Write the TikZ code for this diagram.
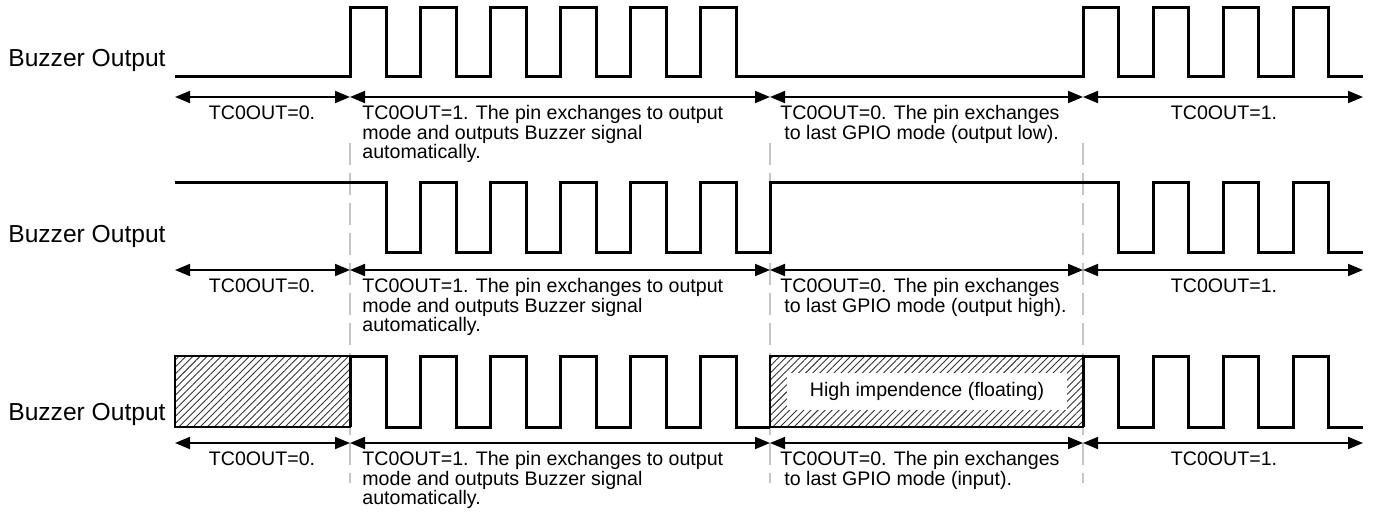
\documentclass[tikz,border=0pt]{standalone}
\usepackage{fontspec}
\setmainfont{Liberation Sans}
\usetikzlibrary{arrows.meta,patterns.meta}

\begin{document}
\begin{tikzpicture}[x=0.5pt,y=-0.5pt,
  wave/.style={line width=1.5pt},
  span/.style={{Triangle[length=7.5pt,width=6pt]}-{Triangle[length=7.5pt,width=6pt]},line width=0.9pt},
  guide/.style={gray!45,line width=1.3pt,dash pattern=on 11pt off 4pt},
  hiz/.style={draw,line width=0.9pt,pattern={Lines[angle=45,distance=2.5pt,line width=0.45pt]},pattern color=black!80},
  lbl/.style={font=\fontsize{12.3}{14}\selectfont,anchor=base east,inner sep=0pt},
  txt/.style={font=\fontsize{9.8}{9.8}\selectfont,inner sep=0pt}]
  \useasboundingbox (0,0) rectangle (1374,521);
  % guide lines at the TC0OUT changes
  \foreach \x in {350,770,1083}
    \draw[guide] (\x,143) -- (\x,483);

  % row 1: idle low
  \node[lbl] (buz1) at (166,66) {Buzzer Output};
  \draw[wave] (175,76) -- (350,76)
    \foreach \k in {0,...,5} { -- ++(0,-69) -- ++(36,0) -- ++(0,69) -- ++(34,0) }
    -- (1083,76)
    \foreach \k in {0,...,3} { -- ++(0,-69) -- ++(35,0) -- ++(0,69) -- ++(35,0) };

  % row 2: idle high
  \node[lbl] (buz2) at (166,242) {Buzzer Output};
  \draw[wave] (175,182) -- (386,182) -- (386,252) -- (420,252)
    \foreach \k in {0,...,4} { -- ++(0,-70) -- ++(36,0) -- ++(0,70) -- ++(34,0) }
    -- (770,182) -- (1118,182) -- (1118,252) -- (1153,252)
    \foreach \k in {0,...,2} { -- ++(0,-70) -- ++(35,0) -- ++(0,70) -- ++(35,0) };

  % row 3: floating input
  \node[lbl] (buz3) at (166,420) {Buzzer Output};
  \draw[hiz] (175,356) rectangle (350,427);
  \draw[hiz] (770,356) rectangle (1083,427);
  \node[txt,fill=white,minimum width=140pt,minimum height=18.5pt] (float) at (927,391) {High impendence (floating)};
  \draw[wave] (350,427)
    \foreach \k in {0,...,5} { -- ++(0,-71) -- ++(36,0) -- ++(0,71) -- ++(34,0) };
  \draw[wave] (1083,427)
    \foreach \k in {0,...,3} { -- ++(0,-71) -- ++(35,0) -- ++(0,71) -- ++(35,0) };

  % spans and notes
  \foreach \r/\y/\m in {1/97/output low,2/270/output high,3/443/input} {
    \foreach \i/\x in {0/175,1/350,2/770,3/1083,4/1363}
      \coordinate (p\r\i) at (\x,\y);
    \draw[span] (p\r0) -- (p\r1);
    \draw[span] (p\r1) -- (p\r2);
    \draw[span] (p\r2) -- (p\r3);
    \draw[span] (p\r3) -- (p\r4);
    \node[txt,anchor=base] (off\r) at (262,\y+22) {TC0OUT=0.};
    \node[txt,anchor=north west,align=left] (on\r) at (362,\y+8)
      {TC0OUT=1. The pin exchanges to output\\mode and outputs Buzzer signal\\automatically.};
    \node[txt,anchor=north west,align=left] (back\r) at (780,\y+8)
      {TC0OUT=0. The pin exchanges\\\hspace*{2pt}to last GPIO mode (\m).};
    \node[txt,anchor=base] (again\r) at (1224,\y+22) {TC0OUT=1.};
  }
\end{tikzpicture}
\end{document}
